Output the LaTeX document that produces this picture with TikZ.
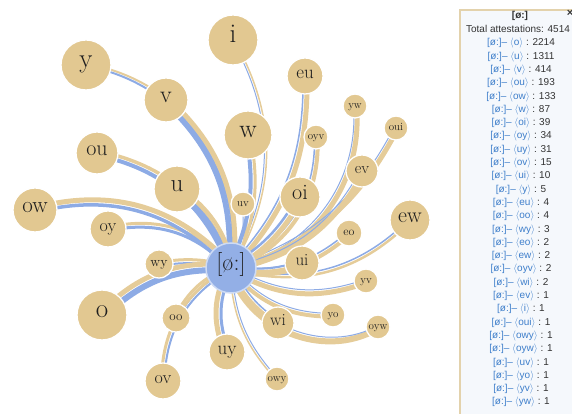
\documentclass[tikz,border=0pt]{standalone}
\usepackage{fontspec}
\newfontfamily\panelfont{Liberation Sans}
\usetikzlibrary{calc}
\definecolor{tanc}{HTML}{E2C891}
\definecolor{tanl}{HTML}{E5CC99}
\definecolor{bluel}{HTML}{8DABE5}
\definecolor{cfill}{HTML}{93AFE6}
\definecolor{ptxt}{HTML}{3F7FCB}
\definecolor{dtxt}{HTML}{333333}
\definecolor{pbg}{HTML}{F5F8FC}
\definecolor{pbd}{HTML}{E3D2AC}
\pgfdeclarelayer{bg}
\pgfsetlayers{bg,main}
\newcommand\gn[6]{\node[gnode, minimum size={2*#4pt}, font=\fontsize{#5}{#5}\selectfont] (#1) at (#2,{414-#3}) {#6};}
\newcommand\glink[4]{%
  \pgfmathsetmacro\lko{(#3+#4)/4+0.5}%
  \draw[tanband, line width=#3pt] ($(ctr)!\lko pt!-90:(#1)$) to[bend right=#2] ($(#1)!\lko pt!90:(ctr)$);%
  \draw[blueband, line width=#4pt] ($(ctr)!\lko pt!90:(#1)$) to[bend right=#2] ($(#1)!\lko pt!-90:(ctr)$);%
}
\begin{document}
\begin{tikzpicture}[x=1pt,y=1pt,
  gnode/.style={circle, fill=tanc, draw=white, line width=1.3pt, inner sep=0pt, text=black!88, text height=1ex, text depth=0pt},
  tanband/.style={draw=tanl},
  blueband/.style={draw=bluel},
  ptext/.style={font=\panelfont\fontsize{10}{10}\selectfont, inner sep=0pt, text height=1.5ex, text depth=0.3ex}]
\useasboundingbox (0,0) rectangle (572,414);
% panel
\fill[pbg] (460,404) rectangle (580,-6);
\draw[pbd, line width=1.2pt] (580,404) -- (460,404) -- (460,-6);
\node[ptext, font=\panelfont\bfseries\fontsize{10}{10}\selectfont, text=dtxt] (ph) at (520,{414-16}) {[ø:]};
\node[ptext, font=\panelfont\bfseries\fontsize{11}{11}\selectfont, text=dtxt] (close) at (570,{414-14}) {×};
\node[ptext, text=dtxt] (ptot) at (518,{414-29.5}) {Total attestations: 4514};
\foreach \gr/\nm [count=\k from 0] in {o/2214,u/1311,v/414,ou/193,ow/133,w/87,oi/39,oy/34,uy/31,ov/15,ui/10,y/5,eu/4,oo/4,wy/3,eo/2,ew/2,oyv/2,wi/2,ev/1,i/1,oui/1,owy/1,oyw/1,uv/1,yo/1,yv/1,yw/1}{
  \node[ptext] (p\k) at (521,{414-43.3-13.3*\k}) {{\color{ptxt}[ø:]– $\langle$\gr$\rangle$} {\color{dtxt}: \nm}};
}
% graph nodes
\node[gnode, fill=cfill, draw=white!55!cfill, line width=1.5pt, minimum size=50pt, font=\fontsize{24}{24}\selectfont] (ctr) at (231,{414-268}) {[ø:]};
\gn{y}{86}{65}{25}{27}{y}
\gn{v}{166}{100}{22}{24}{v}
\gn{ou}{97}{153}{21}{22}{ou}
\gn{u}{177}{189}{23}{25}{u}
\gn{ow}{35}{210}{22}{23}{ow}
\gn{oy}{108}{229}{18}{18}{oy}
\gn{wy}{159}{264}{14}{14}{wy}
\gn{o}{102}{315}{25}{27}{o}
\gn{oo}{176}{318}{14}{13}{oo}
\gn{ov}{163}{381}{18}{18}{ov}
\gn{i}{233}{40}{25}{27}{i}
\gn{eu}{305}{76}{18}{19}{eu}
\gn{yw}{355}{106}{12}{11}{yw}
\gn{oui}{396}{128}{12}{11}{oui}
\gn{w}{248}{135}{24}{26}{w}
\gn{oyv}{316}{137}{12}{11}{oyv}
\gn{ev}{362}{171}{16}{16}{ev}
\gn{oi}{300}{197}{20}{22}{oi}
\gn{uv}{243}{204}{12}{11}{uv}
\gn{ew}{410}{220}{20}{22}{ew}
\gn{eo}{349}{233}{13}{12}{eo}
\gn{ui}{302}{263}{17}{17}{ui}
\gn{yv}{366}{281}{12}{11}{yv}
\gn{yo}{333}{315}{12}{11}{yo}
\gn{oyw}{378}{327}{12}{11}{oyw}
\gn{wi}{278}{323}{16}{17}{wi}
\gn{uy}{227}{352}{18}{19}{uy}
\gn{owy}{277}{379}{12}{11}{owy}
% links
\begin{pgfonlayer}{bg}
\glink{i}{30}{1.5}{1}
\glink{owy}{20}{1.5}{1}
\glink{y}{45}{2}{2}
\glink{yw}{42}{5}{1}
\glink{oui}{22}{5}{1}
\glink{ev}{25}{5}{1}
\glink{eu}{22}{5}{1.5}
\glink{oyv}{35}{4}{1.5}
\glink{ew}{30}{2.5}{1.5}
\glink{eo}{25}{4}{1.5}
\glink{yv}{25}{5}{1}
\glink{yo}{25}{4}{1}
\glink{oyw}{52}{6}{1}
\glink{wi}{15}{6}{1.5}
\glink{uv}{20}{3}{1}
\glink{oo}{20}{3}{2}
\glink{wy}{12}{3}{2}
\glink{ov}{30}{3}{2}
\glink{ui}{15}{6}{2}
\glink{uy}{25}{5}{3}
\glink{oy}{30}{3}{3}
\glink{oi}{15}{5}{2.5}
\glink{w}{18}{3}{4}
\glink{ow}{31}{5}{3.5}
\glink{ou}{29}{3.5}{4}
\glink{v}{26}{5}{5}
\glink{u}{20}{4}{6}
\glink{o}{25}{5}{6}
\end{pgfonlayer}
\end{tikzpicture}
\end{document}
